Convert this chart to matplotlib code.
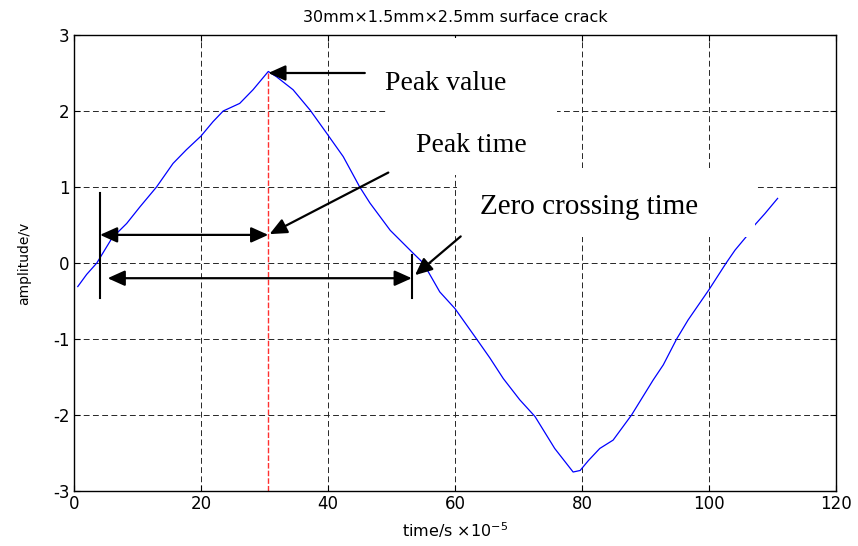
#!/usr/bin/env python3

import numpy as np
from matplotlib import pyplot as plt
from matplotlib.patches import Rectangle

plt.rcParams['axes.unicode_minus'] = False

################################################################################
# data
################################################################################

time = np.array([0.6, 2.0, 3.6, 6.0, 8.3, 10.4, 13.0, 15.6, 17.7, 20.0,
				 21.9, 23.5, 26.1, 28.2, 30.6, 31.9, 34.5, 37.2, 39.6, 42.4,
				 45.0, 46.6, 49.8, 53.4, 55.0, 57.6, 60.0, 63.4, 65.5, 67.6,
				 70.2, 72.6, 75.7, 78.6, 79.7, 81.0, 82.8, 84.9, 87.8, 91.2,
				 92.8, 94.9, 96.7, 100.0, 102.7, 104.1, 105.9, 107.2, 108.8, 110.8])
amplitude = np.array([-0.31, -0.15, 0.0, 0.33, 0.52, 0.74, 1.0, 1.31, 1.49, 1.67,
					  1.86, 2.0, 2.1, 2.28, 2.52, 2.45, 2.28, 2.01, 1.73, 1.40,
					  1.0, 0.79, 0.43, 0.13, 0.0, -0.38, -0.6, -1.0, -1.25, -1.52,
					  -1.8, -2.02, -2.44, -2.75, -2.73, -2.6, -2.44, -2.33, -2.0, -1.54,
					  -1.34, -1.0, -0.75, -0.35, 0.0, 0.17, 0.35, 0.5, 0.65, 0.85])

peak_time = 30.6
peak_value = 2.52
start_time = 4.1
zero_time = 53.3

xticks = [0, 20, 40, 60, 80, 100, 120]
yticks = [-3, -2, -1, 0, 1, 2, 3]

title = '30mm\u00d71.5mm\u00d72.5mm surface crack'
xlabel = 'time/s $\\times$10$^{-5}$'
ylabel = 'amplitude/v'
labels = ['Peak value', 'Peak time', 'Zero crossing time']

################################################################################

def arrow (ax, tail, head, style = '-|>'):
	ax.annotate('', xy = head, xytext = tail,
				arrowprops = dict(arrowstyle = style + ',head_length=0.4,head_width=0.18',
								  color = 'black', lw = 1.6,
								  shrinkA = 0, shrinkB = 0,
								  mutation_scale = 26),
				zorder = 4)

fig = plt.figure(figsize = (8.58, 5.46), dpi = 100)
ax = fig.add_axes([0.0862, 0.1007, 0.8882, 0.8352])

ax.plot(time, amplitude, color = 'blue', lw = 0.9, zorder = 2)
ax.plot([peak_time, peak_time], [-3, peak_value], color = '#ff3030',
		lw = 1.0, linestyle = (0, (4, 1.5)), zorder = 2.1)

# white boxes behind the annotation text (they hide grid and trace)
ax.add_patch(Rectangle((49.4, 1.16), 26.7, 1.80, facecolor = 'white',
					   edgecolor = 'none', zorder = 2.3))
ax.add_patch(Rectangle((60.3, 0.34), 46.9, 0.91, facecolor = 'white',
					   edgecolor = 'none', zorder = 2.3))

# marker bars
ax.plot([start_time, start_time], [0.92, -0.46], color = 'black', lw = 1.5, zorder = 4)
ax.plot([zero_time, zero_time], [0.105, -0.46], color = 'black', lw = 1.5, zorder = 4)

arrow(ax, (45.8, 2.50), (peak_time, 2.50))
arrow(ax, (49.5, 1.19), (30.8, 0.38))
arrow(ax, (60.9, 0.35), (53.7, -0.16))
arrow(ax, (start_time, 0.37), (peak_time, 0.37), style = '<|-|>')
arrow(ax, (5.3, -0.20), (53.2, -0.20), style = '<|-|>')

serif = ['Liberation Serif', 'DejaVu Serif']
ax.text(49.0, 2.276, labels[0], family = serif, fontsize = 20, zorder = 5)
ax.text(53.9, 1.46, labels[1], family = serif, fontsize = 20, zorder = 5)
ax.text(63.9, 0.64, labels[2], family = serif, fontsize = 21, zorder = 5)

ax.set_xlim(0, 120)
ax.set_ylim(-3, 3)
ax.set_xticks(xticks)
ax.set_yticks(yticks)
ax.grid(True, color = '0.15', lw = 0.7, linestyle = (0, (6, 3.5)))
ax.tick_params(direction = 'in', length = 4, width = 0.8,
			   top = True, right = True, labelsize = 12, pad = 3)
for spine in ax.spines.values():
	spine.set_linewidth(1.0)
	spine.set_zorder(3)

ax.set_title(title, fontsize = 11.5, pad = 9)
ax.set_xlabel(xlabel, fontsize = 11.5, labelpad = 5)
ax.set_ylabel(ylabel, fontsize = 10, labelpad = 16)

plt.savefig('out.png', dpi = 100)
plt.close()

################################################################################
# EOF
